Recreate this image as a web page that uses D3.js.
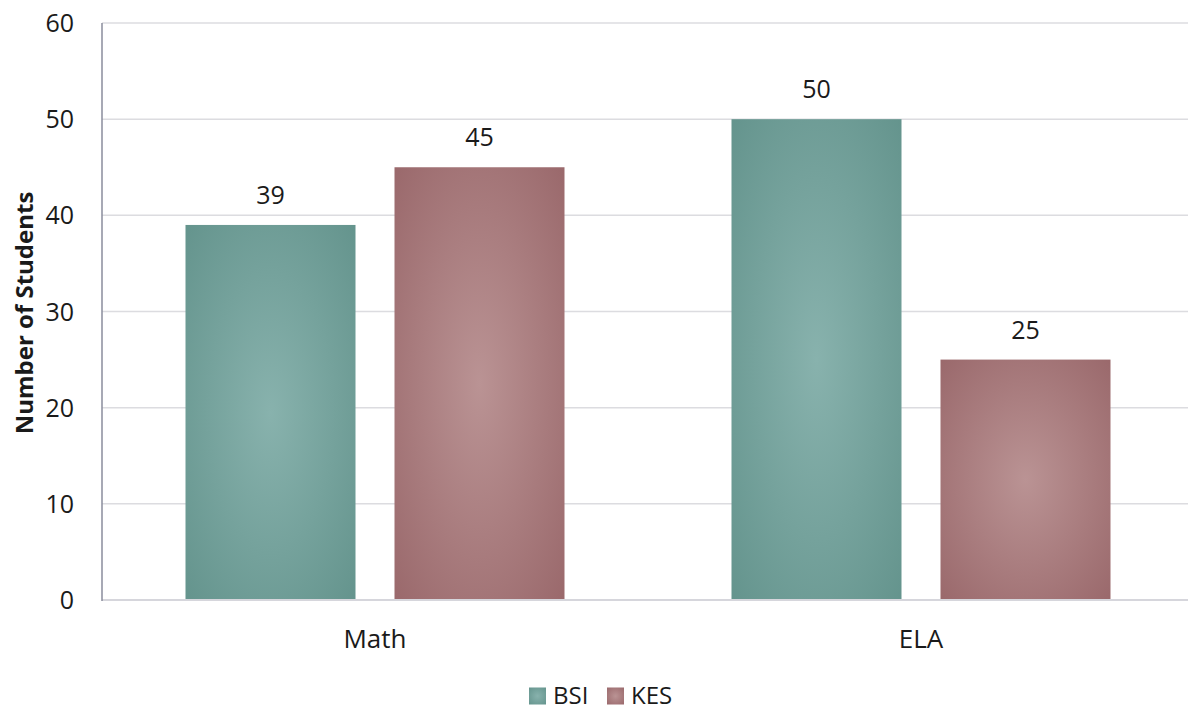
<!DOCTYPE html>
<html>
<head>
<meta charset="utf-8">
<script src="https://cdn.jsdelivr.net/npm/d3@7/dist/d3.min.js"></script>
<style>
  html, body { margin: 0; padding: 0; background: #fff; }
  svg text { font-family: "Open Sans", "Noto Sans", sans-serif; fill: #1a1a1a; }
</style>
</head>
<body>
<svg id="chart" width="1188" height="711"></svg>
<script>
// Students per subject, by school
const categories = ["Math", "ELA"];
const seriesNames = ["BSI", "KES"];
const bsiValues = [39, 50];
const kesValues = [45, 25];
const yTicks = [0, 10, 20, 30, 40, 50, 60];

const colors = {
  BSI: { edge: "#62928b", mid: "#88b2ad" },
  KES: { edge: "#986669", mid: "#ba9394" }
};

const svg = d3.select("#chart");
const margin = { left: 102, right: -6, top: 23, bottom: 111 };
const W = 1188, H = 711;
const innerW = W - margin.left - margin.right;
const innerH = H - margin.top - margin.bottom;

const defs = svg.append("defs");
seriesNames.forEach(name => {
  const g = defs.append("radialGradient")
    .attr("id", "grad-" + name)
    .attr("cx", "50%").attr("cy", "50%").attr("r", "75%");
  g.append("stop").attr("offset", "0%").attr("stop-color", colors[name].mid);
  g.append("stop").attr("offset", "100%").attr("stop-color", colors[name].edge);
});

const x0 = d3.scaleBand().domain(categories).range([0, innerW]).paddingInner(0).paddingOuter(0);
const x1 = d3.scaleBand().domain(seriesNames).range([83.5, x0.bandwidth() - 83.5]).paddingInner(39 / 209).paddingOuter(0);
const y = d3.scaleLinear().domain([0, 60]).range([innerH, 0]);

const g = svg.append("g").attr("transform", `translate(${margin.left},${margin.top})`);

// horizontal gridlines
g.append("g").selectAll("line")
  .data(yTicks.filter(t => t > 0))
  .join("line")
  .attr("x1", 0).attr("x2", innerW)
  .attr("y1", d => y(d)).attr("y2", d => y(d))
  .attr("stroke", "#dcdce0").attr("stroke-width", 1.5);

// y tick labels
g.append("g").selectAll("text")
  .data(yTicks)
  .join("text")
  .attr("x", -28).attr("y", d => y(d) + 9)
  .attr("text-anchor", "end")
  .attr("font-size", 25)
  .text(d => d);

// bars
const rows = categories.map((c, i) => ({
  cat: c,
  vals: [{ s: "BSI", v: bsiValues[i] }, { s: "KES", v: kesValues[i] }]
}));

const groups = g.selectAll("g.cat")
  .data(rows)
  .join("g")
  .attr("class", "cat")
  .attr("transform", d => `translate(${x0(d.cat)},0)`);

groups.selectAll("rect")
  .data(d => d.vals)
  .join("rect")
  .attr("x", d => x1(d.s))
  .attr("y", d => y(d.v))
  .attr("width", x1.bandwidth())
  .attr("height", d => y(0) - y(d.v))
  .attr("fill", d => `url(#grad-${d.s})`);

groups.selectAll("text.val")
  .data(d => d.vals)
  .join("text")
  .attr("class", "val")
  .attr("x", d => x1(d.s) + x1.bandwidth() / 2)
  .attr("y", d => y(d.v) - 21)
  .attr("text-anchor", "middle")
  .attr("font-size", 25)
  .text(d => d.v);

// axes lines
g.append("line")
  .attr("x1", 0).attr("x2", innerW)
  .attr("y1", y(0)).attr("y2", y(0))
  .attr("stroke", "#d6d6dc").attr("stroke-width", 2);
g.append("line")
  .attr("x1", 0).attr("x2", 0)
  .attr("y1", 0).attr("y2", y(0) + 1)
  .attr("stroke", "#8a8d9c").attr("stroke-width", 1.5);

// category labels
g.append("g").selectAll("text")
  .data(categories)
  .join("text")
  .attr("x", d => x0(d) + x0.bandwidth() / 2)
  .attr("y", innerH + 48)
  .attr("text-anchor", "middle")
  .attr("font-size", 26)
  .text(d => d);

// y axis title
svg.append("text")
  .attr("transform", `translate(33,313) rotate(-90)`)
  .attr("text-anchor", "middle")
  .attr("font-size", 24)
  .attr("font-weight", "bold")
  .text("Number of Students");

// legend
const legend = svg.append("g").attr("transform", "translate(529,696)");
const legendX = [0, 78];
seriesNames.forEach((name, i) => {
  const lg = legend.append("g").attr("transform", `translate(${legendX[i]},0)`);
  lg.append("rect").attr("x", 0).attr("y", -8.5).attr("width", 17).attr("height", 17)
    .attr("fill", `url(#grad-${name})`);
  lg.append("text").attr("x", 24).attr("y", 8)
    .attr("font-size", 24).text(name);
});
</script>
</body>
</html>
